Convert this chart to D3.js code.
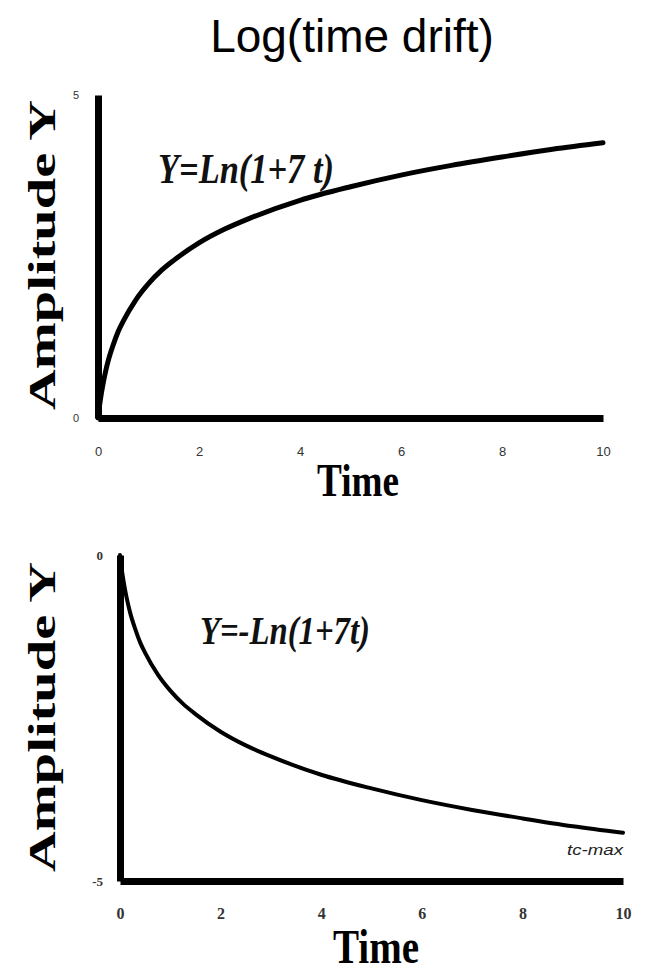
<!DOCTYPE html>
<html>
<head>
<meta charset="utf-8">
<script src="https://cdn.jsdelivr.net/npm/d3@7"></script>
<style>
  html, body { margin: 0; padding: 0; background: #fff; }
  svg { display: block; }
</style>
</head>
<body>
<svg id="chart" width="646" height="975"></svg>
<script>
// Sample times along the drift curve
const times = [0, 0.02, 0.05, 0.1, 0.15, 0.2, 0.3, 0.4, 0.5, 0.75, 1, 1.25, 1.5, 2, 2.5, 3, 4, 5, 6, 7, 8, 9, 10];
// Amplitude of the rising drift, Y = Ln(1+7t)
const riseValues = [0, 0.13, 0.30, 0.53, 0.72, 0.88, 1.13, 1.34, 1.50, 1.83, 2.08, 2.28, 2.44, 2.71, 2.92, 3.09, 3.37, 3.58, 3.76, 3.91, 4.04, 4.16, 4.26];
// Amplitude of the falling drift, Y = -Ln(1+7t)
const fallValues = [0, -0.13, -0.30, -0.53, -0.72, -0.88, -1.13, -1.34, -1.50, -1.83, -2.08, -2.28, -2.44, -2.71, -2.92, -3.09, -3.37, -3.58, -3.76, -3.91, -4.04, -4.16, -4.26];
// Axis ticks
const timeTicks = [0, 2, 4, 6, 8, 10];
const riseYTicks = [0, 5];
const fallYTicks = [0, -5];

const svg = d3.select("#chart");
const serif = "'Liberation Serif', 'Times New Roman', serif";
const sans = "'Liberation Sans', Arial, sans-serif";
const plain = d => String(d);

// Place a text at (x, y), squeezed or stretched along its run to a given width
function fitText(parent, x, y, str, width, rotate, attrs) {
  const t = parent.append("text").text(str);
  Object.entries(attrs).forEach(([k, v]) => t.attr(k, v));
  const natural = t.node().getComputedTextLength();
  const s = width / natural;
  t.attr("transform", `translate(${x},${y})${rotate ? " rotate(" + rotate + ")" : ""} scale(${s},1)`);
  return t;
}

// Title
svg.append("text")
  .attr("x", 352).attr("y", 52)
  .attr("text-anchor", "middle")
  .attr("font-family", sans)
  .attr("font-size", 46)
  .attr("fill", "#000")
  .text("Log(time drift)");

function panel(cfg) {
  const x = d3.scaleLinear().domain([0, 10]).range([cfg.x0, cfg.x1]);
  const y = d3.scaleLinear().domain(cfg.yDomain).range([cfg.yBase, cfg.yTop]);
  const g = svg.append("g");
  const yMin = d3.min(cfg.yDomain);

  // Curve
  const pts = times.map((t, i) => [t, cfg.values[i]]);
  g.append("path")
    .datum(pts)
    .attr("fill", "none")
    .attr("stroke", "#000")
    .attr("stroke-width", cfg.curveWidth)
    .attr("stroke-linecap", "round")
    .attr("d", d3.line().x(d => x(d[0])).y(d => y(d[1])).curve(d3.curveMonotoneX));

  // Y axis
  const yAxis = g.append("g")
    .attr("transform", `translate(${cfg.x0},0)`)
    .call(d3.axisLeft(y).tickValues(cfg.yTicks).tickFormat(plain).tickSize(0).tickPadding(cfg.yPad).tickSizeOuter(0));
  yAxis.select(".domain").attr("stroke", "#000").attr("stroke-width", 7);
  yAxis.selectAll("text")
    .attr("font-family", cfg.tickFont)
    .attr("font-weight", cfg.tickWeight)
    .attr("font-size", cfg.yTickSize)
    .attr("fill", "#333");

  // X axis along the lower edge of the plot
  const xAxis = g.append("g")
    .attr("transform", `translate(0,${y(yMin)})`)
    .call(d3.axisBottom(x).tickValues(timeTicks).tickFormat(plain).tickSize(0).tickPadding(cfg.xPad).tickSizeOuter(0));
  xAxis.select(".domain").attr("stroke", "#000").attr("stroke-width", 7);
  xAxis.selectAll("text")
    .attr("font-family", cfg.tickFont)
    .attr("font-weight", cfg.tickWeight)
    .attr("font-size", cfg.xTickSize)
    .attr("fill", "#333");

  // Axis titles
  fitText(g, cfg.timeX, cfg.timeY, "Time", cfg.timeLen, 0, {
    "text-anchor": "middle", "font-family": serif, "font-weight": "bold", "font-size": cfg.timeSize
  });

  fitText(g, cfg.ampX, cfg.ampY, "Amplitude Y", 310, -90, {
    "text-anchor": "middle", "font-family": serif, "font-weight": "bold", "font-size": 38
  });

  // Formula
  fitText(g, cfg.fx, cfg.fy, cfg.formula, cfg.fLen, 0, {
    "font-family": serif, "font-weight": "bold", "font-style": "italic",
    "font-size": cfg.fSize, "fill": "#111"
  });

  return { x, y, g };
}

panel({
  x0: 98, x1: 603, yTop: 95, yBase: 418, yDomain: [0, 5], values: riseValues, yTicks: riseYTicks,
  curveWidth: 5, yPad: 19, xPad: 29, tickFont: sans, tickWeight: "normal", yTickSize: 11, xTickSize: 13,
  timeX: 358, timeY: 496, timeSize: 46, timeLen: 82, ampX: 55, ampY: 255,
  formula: "Y=Ln(1+7 t)", fx: 158, fy: 183, fSize: 42, fLen: 176
});

const bottom = panel({
  x0: 120, x1: 623, yTop: 881, yBase: 555, yDomain: [0, -5], values: fallValues, yTicks: fallYTicks,
  curveWidth: 4, yPad: 17, xPad: 27, tickFont: serif, tickWeight: "bold", yTickSize: 13, xTickSize: 16,
  timeX: 376, timeY: 963, timeSize: 48, timeLen: 86, ampX: 55, ampY: 717,
  formula: "Y=-Ln(1+7t)", fx: 200, fy: 644, fSize: 40, fLen: 170
});

// Marker for the end of the drift window
fitText(bottom.g, 623, 855, "tc-max", 56, 0, {
  "text-anchor": "end", "font-family": sans, "font-style": "italic", "font-size": 14, "fill": "#222"
});
</script>
</body>
</html>
